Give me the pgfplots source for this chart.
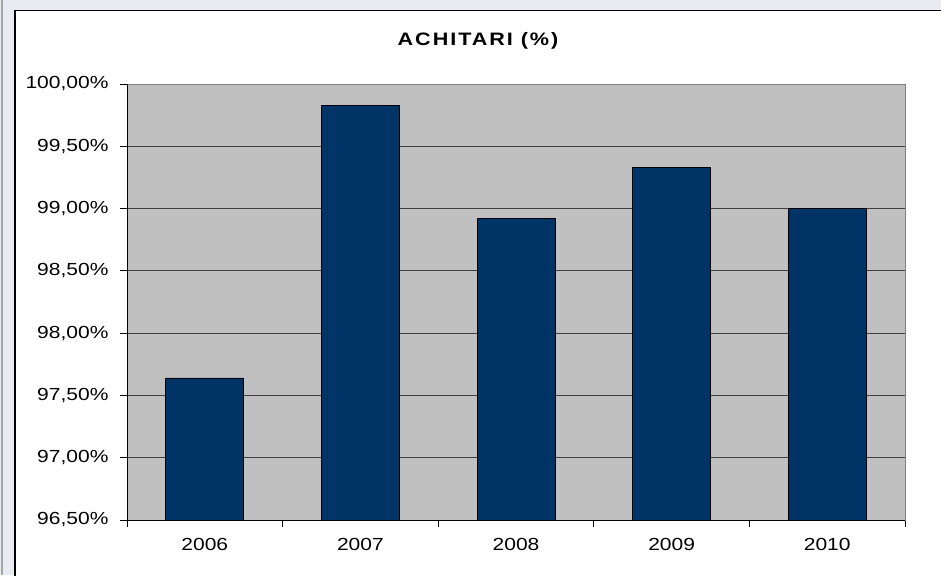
\documentclass[border=0pt]{standalone}
\usepackage{fontspec}
\setmainfont{Liberation Sans}
\usepackage{pgfplots}
\pgfplotsset{compat=1.18}
\definecolor{barblue}{HTML}{003366}
\definecolor{plotgray}{HTML}{C0C0C0}
\definecolor{framebg}{HTML}{EAEAF3}
\definecolor{gridcol}{HTML}{404040}
% labels in the reference are a little wider than plain Arial
\newcommand{\hs}[1]{\scalebox{1.2}[1]{#1}}

\begin{document}
\begin{tikzpicture}[x=1pt,y=1pt]
\clip (0,0) rectangle (941,575);
% outer frame and white chart area
\fill[framebg] (0,0) rectangle (941,575);
\draw[gray!70, line width=1.5pt] (2,0) -- (2,575);
\fill[white] (15,-5) rectangle (950,564.5);
\draw[black, line width=1.6pt] (15,-5) -- (15,564.5) -- (950,564.5);

\node[font=\fontsize{18}{20}\selectfont\bfseries\addfontfeatures{LetterSpace=9}] at (478,534) {\hs{ACHITARI (\%)}};

\begin{axis}[
  at={(127pt,55pt)}, anchor=south west,
  width=778pt, height=436pt, scale only axis,
  xmin=0.5, xmax=5.5, ymin=96.5, ymax=100,
  axis background/.style={fill=plotgray},
  axis line style={draw=gray, line width=0.8pt},
  ybar, bar width=78pt,
  xtick={1,2,3,4,5},
  xticklabels={\hs{2006},\hs{2007},\hs{2008},\hs{2009},\hs{2010}},
  major x tick style={draw=none},
  minor xtick={0.5,1.5,2.5,3.5,4.5,5.5},
  minor x tick style={black, line width=0.8pt},
  minor tick length=7pt,
  ytick={96.5,97,97.5,98,98.5,99,99.5,100},
  major tick length=7pt,
  ytick style={black, line width=0.8pt},
  tick align=outside, xtick pos=bottom, ytick pos=left,
  ymajorgrids, grid style={gridcol, line width=0.9pt},
  /pgf/number format/assume math mode=true,
  yticklabel={\hs{\pgfmathprintnumber[fixed,fixed zerofill,precision=2,use comma]{\tick}\%}},
  ticklabel style={font=\fontsize{17.5}{19}\selectfont},
  yticklabel style={xshift=-8pt},
  xticklabel style={yshift=-8pt},
]
\addplot[fill=barblue, draw=black, line width=0.8pt] coordinates
  {(1,97.64) (2,99.83) (3,98.92) (4,99.33) (5,99.00)};
\draw[black, line width=0.9pt] (rel axis cs:0,1) -- (rel axis cs:0,0) -- (rel axis cs:1,0);
\end{axis}
\end{tikzpicture}
\end{document}
